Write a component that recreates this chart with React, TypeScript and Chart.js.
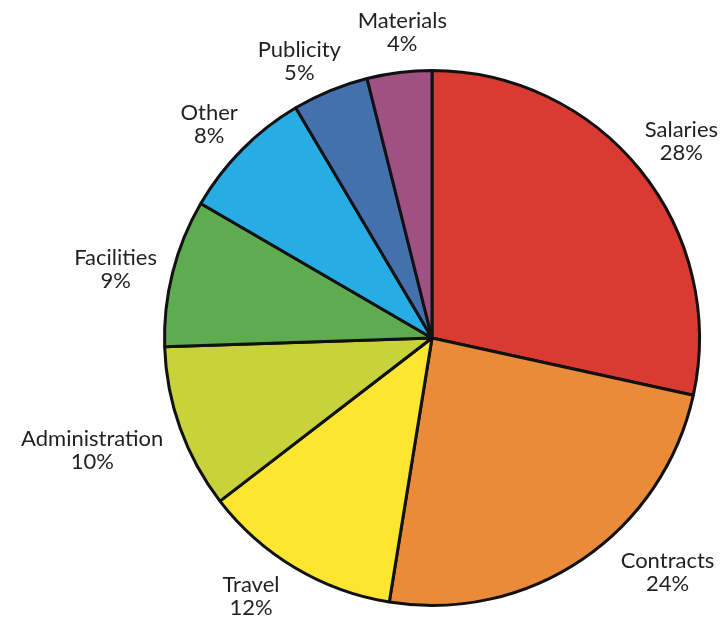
import React, { useEffect, useRef } from "react";
import { Chart, registerables } from "chart.js";

Chart.register(...registerables);

const categories = ["Salaries", "Contracts", "Travel", "Administration", "Facilities", "Other", "Publicity", "Materials"];
const shares = [28.4, 24.1, 12.0, 9.9, 8.9, 8.1, 4.6, 3.9];
const sliceColors = ["#D93A32", "#EA8B3A", "#FDE630", "#C8D23A", "#5EAB50", "#27ADE4", "#4470AE", "#A05183"];
// label offsets (px) from the slice's outer edge mid-point
const labelOffsets: [number, number][] = [
  [41, -29], [85, 13], [-44, 29], [-88, 22], [-57, -3], [-33, -25], [-31, -29], [3, -40],
];

const labelPlugin = {
  id: "outerLabels",
  afterDatasetsDraw(chart: any) {
    const ctx = chart.ctx;
    const meta = chart.getDatasetMeta(0);
    const total = shares.reduce((a, b) => a + b, 0);
    ctx.save();
    ctx.font = "22px Lato";
    ctx.fillStyle = "#231F20";
    ctx.textAlign = "center";
    ctx.textBaseline = "middle";
    meta.data.forEach((arc: any, i: number) => {
      const { x, y, startAngle, endAngle, outerRadius } = arc.getProps(["x", "y", "startAngle", "endAngle", "outerRadius"], true);
      const mid = (startAngle + endAngle) / 2;
      const ex = x + Math.cos(mid) * outerRadius;
      const ey = y + Math.sin(mid) * outerRadius;
      const lx = ex + labelOffsets[i][0];
      const ly = ey + labelOffsets[i][1];
      ctx.fillText(categories[i], lx, ly - 11.5);
      ctx.fillText(Math.round((shares[i] / total) * 100) + "%", lx, ly + 11.5);
    });
    ctx.restore();
  },
};

export default function App() {
  const ref = useRef<HTMLCanvasElement>(null);
  useEffect(() => {
    document.body.style.margin = "0";
    const chart = new Chart(ref.current!, {
      type: "pie",
      data: {
        labels: categories,
        datasets: [{
          data: shares,
          backgroundColor: sliceColors,
          borderColor: "#111111",
          borderWidth: 3,
          hoverOffset: 0,
        }],
      },
      options: {
        animation: false,
        responsive: false,
        events: [],
        layout: { padding: { left: 163, right: 21, top: 69, bottom: 14 } },
        plugins: { legend: { display: false }, tooltip: { enabled: false } },
      },
      plugins: [labelPlugin],
    });
    return () => chart.destroy();
  }, []);
  return (
    <div style={{ width: 722, height: 621, background: "#fff" }}>
      <canvas ref={ref} width={722} height={621} style={{ width: 722, height: 621, display: "block" }} />
    </div>
  );
}
